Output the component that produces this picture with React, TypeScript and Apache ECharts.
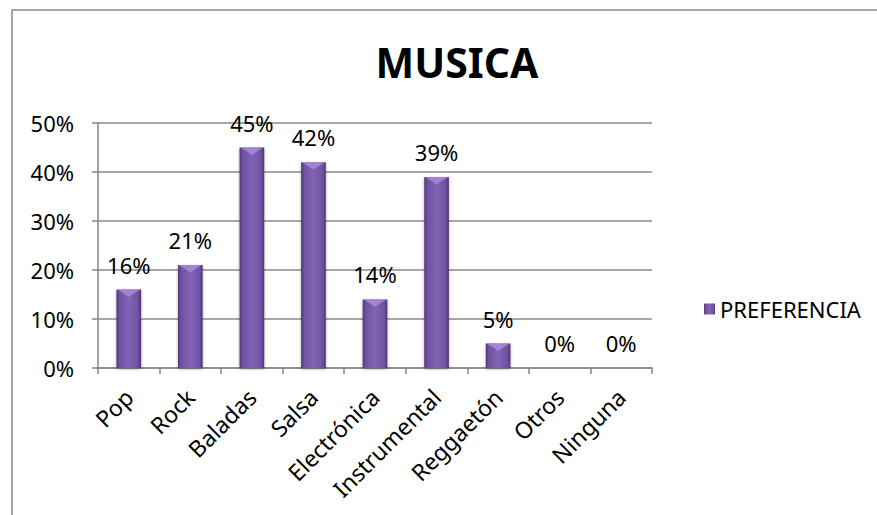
import React, { useEffect, useRef } from "react";
import * as echarts from "echarts";

const categories = ["Pop", "Rock", "Baladas", "Salsa", "Electrónica", "Instrumental", "Reggaetón", "Otros", "Ninguna"];
const preferencia = [16, 21, 45, 42, 14, 39, 5, 0, 0];
const yTicks = { min: 0, max: 50, interval: 10 };
const seriesName = "PREFERENCIA";
const title = "MUSICA";

const FONT = "'Noto Sans', 'Open Sans', sans-serif";

export default function App() {
  const ref = useRef<HTMLDivElement>(null);
  useEffect(() => {
    if (!ref.current) return;
    const chart = echarts.init(ref.current, undefined, { renderer: "svg" });
    const barGrad = new echarts.graphic.LinearGradient(0, 0, 1, 0, [
      { offset: 0, color: "#4f3778" },
      { offset: 0.12, color: "#6e51a0" },
      { offset: 0.5, color: "#8264b6" },
      { offset: 0.88, color: "#6e51a0" },
      { offset: 1, color: "#4a3372" },
    ]);
    chart.setOption({
      animation: false,
      backgroundColor: "#ffffff",
      title: {
        text: title,
        left: 452,
        top: 36,
        textAlign: "center",
        textStyle: { fontFamily: FONT, fontSize: 41, fontWeight: "bold", color: "#000" },
      },
      graphic: [
        {
          type: "rect",
          shape: { x: 12, y: 10, width: 900, height: 600 },
          style: { fill: "none", stroke: "#8a8a8a", lineWidth: 1.5 },
          silent: true,
          z: -1,
        },
      ],
      legend: {
        data: [seriesName],
        left: 699,
        top: 293,
        icon: "rect",
        itemWidth: 11,
        itemHeight: 11,
        itemGap: 4,
        textStyle: { fontFamily: FONT, fontSize: 22, color: "#000" },
      },
      grid: { left: 98, right: 225, top: 123, bottom: 147 },
      xAxis: {
        type: "category",
        data: categories,
        axisLine: { lineStyle: { color: "#868686", width: 1.5 } },
        axisTick: { show: true, length: 6, lineStyle: { color: "#868686", width: 1.5 } },
        axisLabel: {
          rotate: 45,
          interval: 0,
          margin: 25,
          fontFamily: FONT,
          fontSize: 23,
          color: "#000",
        },
      },
      yAxis: {
        type: "value",
        min: yTicks.min,
        max: yTicks.max,
        interval: yTicks.interval,
        axisLine: { show: true, lineStyle: { color: "#868686", width: 1.5 } },
        axisTick: { show: true, length: 6, lineStyle: { color: "#868686", width: 1.5 } },
        axisLabel: {
          formatter: "{value}%",
          margin: 24,
          fontFamily: FONT,
          fontSize: 22,
          color: "#000",
        },
        splitLine: { lineStyle: { color: "#8a8a8a", width: 1.5 } },
      },
      series: [
        {
          name: seriesName,
          type: "bar",
          data: preferencia,
          barWidth: "40%",
          itemStyle: {
            color: barGrad,
            shadowColor: "rgba(0,0,0,0.35)",
            shadowBlur: 3,
            shadowOffsetY: 1,
          },
          label: {
            show: true,
            position: "top",
            distance: 14,
            formatter: "{c}%",
            fontFamily: FONT,
            fontSize: 22,
            color: "#000",
          },
        },
        {
          name: "bevel",
          type: "custom",
          silent: true,
          z: 5,
          data: preferencia.map((v, i) => [i, v]),
          renderItem: (params: any, api: any) => {
            const v = api.value(1);
            if (!v) return { type: "group", children: [] };
            const top = api.coord([api.value(0), v]);
            const band = api.size([1, 0])[0];
            const w = band * 0.4;
            const cx = top[0];
            const y = top[1];
            return {
              type: "polygon",
              shape: {
                points: [
                  [cx - w / 2 + 1, y],
                  [cx + w / 2 - 1, y],
                  [cx, y + w * 0.3],
                ],
              },
              style: { fill: "#a78ad8", opacity: 0.85 },
            };
          },
        },
      ],
    });
    return () => chart.dispose();
  }, []);
  return <div ref={ref} style={{ width: 877, height: 515, position: "absolute", left: 0, top: 0 }} />;
}
